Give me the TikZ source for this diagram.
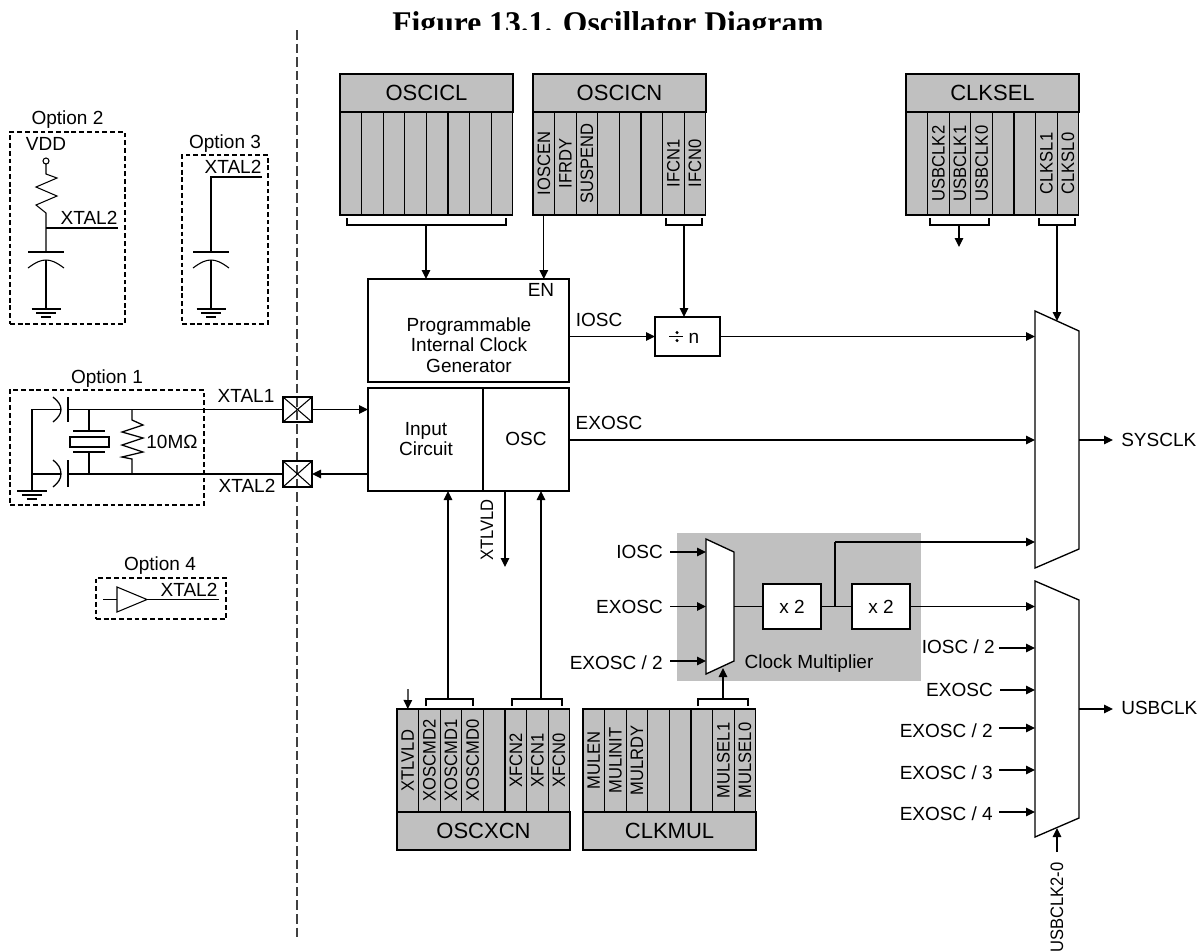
\documentclass[tikz,border=0pt]{standalone}
\usepackage{fontspec}
\setmainfont{Liberation Sans}
\newfontfamily\titlefont{Liberation Serif}
\usetikzlibrary{arrows.meta}
\definecolor{blk}{HTML}{C0C0C0}
\tikzset{
  wire/.style={line width=0.95pt,black},
  arr/.style={wire,-{Triangle[length=6.75pt,width=6.4pt]}},
  thin wire/.style={line width=0.8pt,black},
  optbox/.style={draw,line width=0.8pt,dash pattern=on 3.6pt off 2.2pt,inner sep=0},
  solidbox/.style={draw,line width=1pt,fill=white,inner sep=0,outer sep=0,font=\fontsize{14.25pt}{15.4pt}\selectfont},
  padbox/.style={draw,line width=0.95pt,inner sep=0,outer sep=0},
  regcell/.style={draw,line width=1pt,fill=blk,inner sep=0,outer sep=0},
  graybg/.style={fill=blk,inner sep=0,outer sep=0},
  lab/.style={font=\fontsize{14.25pt}{15.4pt}\selectfont,inner sep=0,text height=10.2pt,text depth=0pt},
  multi/.style={font=\fontsize{14.25pt}{15.4pt}\selectfont,inner sep=0,align=center},
  regtext/.style={font=\fontsize{13.5pt}{15pt}\selectfont,inner sep=0,rotate=90},
  headtext/.style={font=\fontsize{16.5pt}{18pt}\selectfont,inner sep=0},
}
\newcommand{\rt}[1]{\scalebox{0.92}[1]{#1}}
% name, x1, y1, x2, y2, style, text
\newcommand{\pxbox}[7]{\node[#6,minimum width={(#4-#2)*0.75pt},minimum height={(#5-#3)*0.75pt}] (#1) at ({(#2+#4)/2},{(#3+#5)/2}) {#7};}
% name, x1, y1, y2, labels
\newcommand{\regcells}[5]{%
  \foreach \t [count=\i] in {#5} {%
    \pgfmathsetmacro\cx{#2+(\i-.5)*21.6}%
    \node[regcell,minimum width=16.2pt,minimum height={(#4-#3)*0.75pt}] (#1-\i) at ({\cx},{(#3+#4)/2}) {};
    \node[regtext] (#1-\i-t) at (#1-\i) {\rt{\t}};
  }}
% bracket: name of stem coordinate, x1, x2, y-open, y-closed, x-stem
\newcommand{\bracket}[6]{%
  \draw[thin wire] (#2,#4) -- (#2,#5) -- (#3,#5) -- (#3,#4);
  \coordinate (#1) at (#6,#5);}
% ground symbol at x, y
\newcommand{\gnd}[2]{%
  \draw[thin wire] ({#1-14.5},#2) -- ({#1+14.5},#2);
  \draw[thin wire] ({#1-10},{#2+4}) -- ({#1+10},{#2+4});
  \draw[thin wire] ({#1-5},{#2+8}) -- ({#1+5},{#2+8});}
% capacitor branch, vertical
\newcommand{\capv}[1]{%
  \draw[thin wire] ({#1-18},252) -- ({#1+18},252);
  \draw[thin wire] ({#1-18},268) .. controls ({#1-10},262) and ({#1-5},260) .. (#1,260) .. controls ({#1+5},260) and ({#1+10},262) .. ({#1+18},268);
  \draw[thin wire] (#1,260) -- (#1,309);
  \gnd{#1}{309}}
\begin{document}
\begin{tikzpicture}[x=0.75pt,y=-0.75pt]
\useasboundingbox (0,0) rectangle (1202,951);
\clip (0,0) rectangle (1202,951);
\fill[white] (0,0) rectangle (1202,951);

% title, cut off at its lower part as in the source
\begin{scope}
  \clip (300,0) rectangle (900,29);
  \node[anchor=base,inner sep=0,font=\titlefont\bfseries\fontsize{23.7pt}{26pt}\selectfont] (title) at (608,33.5) {Figure 13.1. Oscillator Diagram};
\end{scope}

% chip boundary
\coordinate (bndtop) at (297,30);
\coordinate (bndbot) at (297,941);
\draw[line width=1.4pt,black!75,dash pattern=on 7.2pt off 3pt] (bndtop) -- (bndbot);

% ---------- Option 2
\pxbox{opt2}{10}{132}{125}{324}{optbox}{}
\node[lab] (opt2l) at (67.5,118) {Option 2};
\node[lab] (vdd) at (46,144) {VDD};
\node[draw,circle,thin wire,minimum size=4.5pt,inner sep=0,outer sep=0] (vddc) at (46,161) {};
\coordinate (j2) at (46,228);
\coordinate (x2end) at (118,228);
\draw[thin wire] (vddc.south) -- (46,174) -- (57,178) -- (36,187) -- (57,196) -- (36,205) -- (46,213) -- (46,252);
\draw[thin wire] (j2) -- (x2end);
\node[lab] (x2l2) at (89,218) {XTAL2};
\capv{46}

% ---------- Option 3
\pxbox{opt3}{182}{155}{268}{324}{optbox}{}
\node[lab] (opt3l) at (225,142) {Option 3};
\node[lab] (x2l3) at (233,167) {XTAL2};
\coordinate (j3) at (211,177);
\coordinate (x3end) at (262,177);
\draw[thin wire] (x3end) -- (j3) -- (211,252);
\capv{211}

% ---------- Option 1
\pxbox{opt1}{10}{390}{204}{505}{optbox}{}
\node[lab] (opt1l) at (107,377) {Option 1};
\pxbox{pad1}{283}{397}{312}{422}{padbox}{}
\pxbox{pad2}{283}{461}{312}{487}{padbox}{}
\draw[thin wire] (pad1.north west) -- (pad1.south east) (pad1.north east) -- (pad1.south west);
\draw[thin wire] (pad2.north west) -- (pad2.south east) (pad2.north east) -- (pad2.south west);
\coordinate (c1p) at (68,409.5);
\coordinate (c2p) at (68,474);
\draw[wire] (pad1.west) -- (c1p);
\draw[wire] (pad2.west) -- (c2p);
\draw[wire] (68,397) -- (68,422);
\draw[wire] (68,460) -- (68,487);
\draw[wire] (53,397) .. controls (58,401) and (61,405) .. (61,409.5) .. controls (61,414) and (58,418) .. (53,422);
\draw[wire] (53,460) .. controls (58,464) and (61,468) .. (61,474) .. controls (61,479) and (58,483) .. (53,487);
\draw[wire] (61,409.5) -- (32,409.5) -- (32,491);
\draw[wire] (61,474) -- (32,474);
\draw[thin wire] (17,491) -- (47,491) (22,495) -- (42,495) (27,499) -- (37,499);
% crystal
\node[draw,wire,minimum width={39*0.75pt},minimum height={10*0.75pt},inner sep=0,outer sep=0] (xtalr) at (89.5,442) {};
\draw[wire] (89,409.5) -- (89,431);
\draw[line width=1.2pt] (73,431) -- (105,431);
\draw[line width=1.2pt] (73,452) -- (105,452);
\draw[wire] (89,452) -- (89,474);
% resistor
\draw[wire] (132,409.5) -- (132,420) -- (143,425) -- (122,432) -- (143,438) -- (122,445) -- (143,452) -- (122,457) -- (132,459) -- (132,474);
\node[lab] (megl) at (172,442) {10MΩ};
\node[lab] (x1l) at (246,396) {XTAL1};
\node[lab] (x2l) at (247,486) {XTAL2};

% ---------- Option 4
\pxbox{opt4}{96}{578}{226}{619}{optbox}{}
\node[lab] (opt4l) at (160,564) {Option 4};
\node[lab] (x2l4) at (189,590) {XTAL2};
\coordinate (buft) at (147,599.5);
\coordinate (bufin) at (117,599.5);
\coordinate (lead) at (103,599.5);
\coordinate (x4end) at (219,599.5);
\draw[thin wire] (117,587) -- (buft) -- (117,612) -- cycle;
\draw[thin wire] (lead) -- (bufin);
\draw[wire] (buft) -- (x4end);

% ---------- top registers
\pxbox{oscicl}{340}{74}{513}{112}{regcell}{}
\node[headtext] (osciclt) at (oscicl) {OSCICL};
\regcells{cl}{340}{112}{215}{,,,,,,,}
\pxbox{oscicn}{533}{74}{706}{112}{regcell}{}
\node[headtext] (oscicnt) at (oscicn) {OSCICN};
\regcells{cn}{533}{112}{215}{IOSCEN,IFRDY,SUSPEND,,,,IFCN1,IFCN0}
\pxbox{clksel}{906}{74}{1079}{112}{regcell}{}
\node[headtext] (clkselt) at (clksel) {CLKSEL};
\regcells{cs}{906}{112}{215}{,USBCLK2,USBCLK1,USBCLK0,,,CLKSL1,CLKSL0}

\bracket{bcl}{347}{506}{218}{225}{426}
\bracket{bifc}{666}{702}{218}{225}{684}
\bracket{busb}{930}{989}{218}{225}{959}
\bracket{bcks}{1039}{1075}{218}{225}{1057}

% ---------- internal clock generator
\pxbox{picg}{368}{279}{569}{382}{solidbox}{}
\node[lab] (en) at (541,290) {EN};
\node[multi] (picgt) at (469,345) {Programmable\\Internal Clock\\Generator};
\pxbox{divn}{655}{317}{720}{356}{solidbox}{}
\node[lab,anchor=center] (nl) at (694,337) {n};
\draw[thin wire] (669,336.5) -- (683,336.5);
\fill (677,332.5) circle[radius=1.3pt];
\fill (677,340.5) circle[radius=1.3pt];
\node[lab] (ioscl) at (599,320) {IOSC};

% ---------- input circuit / oscillator
\pxbox{incirc}{368}{388}{483}{491}{solidbox}{}
\pxbox{osc}{483}{388}{569}{491}{solidbox}{}
\node[multi] (incirct) at (426,439) {Input\\Circuit};
\node[lab] (osct) at (526,439) {OSC};
\node[lab] (exoscl) at (609,423) {EXOSC};
\node[regtext] (xtlvldl) at (487,530) {\rt{XTLVLD}};

% ---------- clock multiplier
\pxbox{cmbg}{677}{533}{921}{681}{graybg}{}
\coordinate (m0a) at (706,539);
\coordinate (m0b) at (734,552);
\coordinate (m0c) at (734,661);
\coordinate (m0d) at (706,674);
\draw[line width=1pt,fill=white] (m0a) -- (m0b) -- (m0c) -- (m0d) -- cycle;
\coordinate (m0in1) at (706,552);
\coordinate (m0in2) at (706,606.5);
\coordinate (m0in3) at (706,661);
\coordinate (m0out) at (734,606.5);
\coordinate (m0sel) at (723,668);
\pxbox{xa}{763}{584}{821}{629}{solidbox}{x 2}
\pxbox{xb}{852}{584}{910}{629}{solidbox}{x 2}
\node[font=\fontsize{14.25pt}{15.4pt}\selectfont,inner sep=0] (cmt) at (809,664) {Clock Multiplier};
\node[lab,anchor=east] (iin) at (663,552) {IOSC};
\node[lab,anchor=east] (ein) at (663,607) {EXOSC};
\node[lab,anchor=east] (e2in) at (663,663) {EXOSC / 2};
\draw[arr] (670,552) -- (m0in1);
\draw[arr] (670,606.5) -- (m0in2);
\draw[arr] (670,661) -- (m0in3);
\draw[wire] (m0out) -- (xa.west);
\coordinate (jx) at (835,606.5);
\draw[wire] (xa.east) -- (xb.west);

% ---------- bottom registers
\regcells{xc}{397}{709}{812}{XTLVLD,XOSCMD2,XOSCMD1,XOSCMD0,,XFCN2,XFCN1,XFCN0}
\pxbox{oscxcn}{397}{812}{570}{850}{regcell}{}
\node[headtext] (oscxcnt) at (oscxcn) {OSCXCN};
\regcells{cm}{583}{709}{812}{MULEN,MULINIT,MULRDY,,,,MULSEL1,MULSEL0}
\pxbox{clkmul}{583}{812}{756}{850}{regcell}{}
\node[headtext] (clkmult) at (clkmul) {CLKMUL};
\bracket{bxo}{426}{473}{706}{699}{448}
\bracket{bxf}{512}{562}{706}{699}{541}
\bracket{bms}{698}{748}{706}{699}{723}
\coordinate (xtlsrc) at (408,689);
\draw[arr] (xtlsrc) -- (xc-1.north);

% ---------- system clock mux
\coordinate (m1a) at (1035,311);
\coordinate (m1b) at (1079,331);
\coordinate (m1c) at (1079,549);
\coordinate (m1d) at (1035,568);
\draw[line width=1pt,fill=white] (m1a) -- (m1b) -- (m1c) -- (m1d) -- cycle;
\coordinate (m1in1) at (1035,336.5);
\coordinate (m1in2) at (1035,440);
\coordinate (m1in3) at (1035,542);
\coordinate (m1out) at (1079,440);
\coordinate (m1sel) at (1057,321);
\coordinate (sysend) at (1113,440);
\node[lab,anchor=west] (sysclk) at (1121,440) {SYSCLK};

% ---------- USB clock mux
\coordinate (m2a) at (1035,581);
\coordinate (m2b) at (1079,600);
\coordinate (m2c) at (1079,818);
\coordinate (m2d) at (1035,837);
\draw[line width=1pt,fill=white] (m2a) -- (m2b) -- (m2c) -- (m2d) -- cycle;
\coordinate (m2in1) at (1035,606.5);
\coordinate (m2out) at (1079,709);
\coordinate (usbend) at (1113,709);
\coordinate (m2sel) at (1057,828);
\node[lab,anchor=west] (usbclk) at (1121,708) {USBCLK};
\node[lab,anchor=east] (u1) at (995,647) {IOSC / 2};
\node[lab,anchor=east] (u2) at (993,690) {EXOSC};
\node[lab,anchor=east] (u3) at (993,731) {EXOSC / 2};
\node[lab,anchor=east] (u4) at (993,773) {EXOSC / 3};
\node[lab,anchor=east] (u5) at (993,814) {EXOSC / 4};
\draw[arr] (999,648) -- (1035,648);
\draw[arr] (1000,690) -- (1035,690);
\draw[arr] (999,728) -- (1035,728);
\draw[arr] (999,770) -- (1035,770);
\draw[arr] (999,812) -- (1035,812);
\node[regtext,anchor=east] (usbsel) at (1057,862) {\rt{USBCLK2-0}};
\coordinate (usbselw) at (1057,852);
\draw[arr] (usbselw) -- (m2sel);

% ---------- connectors
\draw[arr] (bcl) -- (bcl |- picg.north);
\draw[arr] (cn-1.south) -- (cn-1.south |- picg.north);
\draw[arr] (bifc) -- (bifc |- divn.north);
\coordinate (usbdown) at (959,247);
\draw[arr] (busb) -- (usbdown);
\draw[arr] (bcks) -- (m1sel);
\draw[arr] (picg.east |- divn.west) -- (divn.west);
\draw[arr] (divn.east) -- (m1in1);
\draw[arr] (osc.east |- m1in2) -- (m1in2);
\draw[arr] (pad1.east) -- (pad1.east -| incirc.west);
\draw[arr] (pad2.east -| incirc.west) -- (pad2.east);
\draw[arr] (bxo) -- (bxo |- incirc.south);
\draw[arr] (bxf) -- (bxf |- osc.south);
\coordinate (xtlend) at (505,567);
\draw[arr] (xtlend |- osc.south) -- (xtlend);
\draw[arr] (bms) -- (m0sel);
\draw[wire] (jx) -- (835,542);
\draw[arr] (835,542) -- (m1in3);
\draw[arr] (xb.east) -- (m2in1);
\draw[arr] (m1out) -- (sysend);
\draw[arr] (m2out) -- (usbend);
\end{tikzpicture}
\end{document}
